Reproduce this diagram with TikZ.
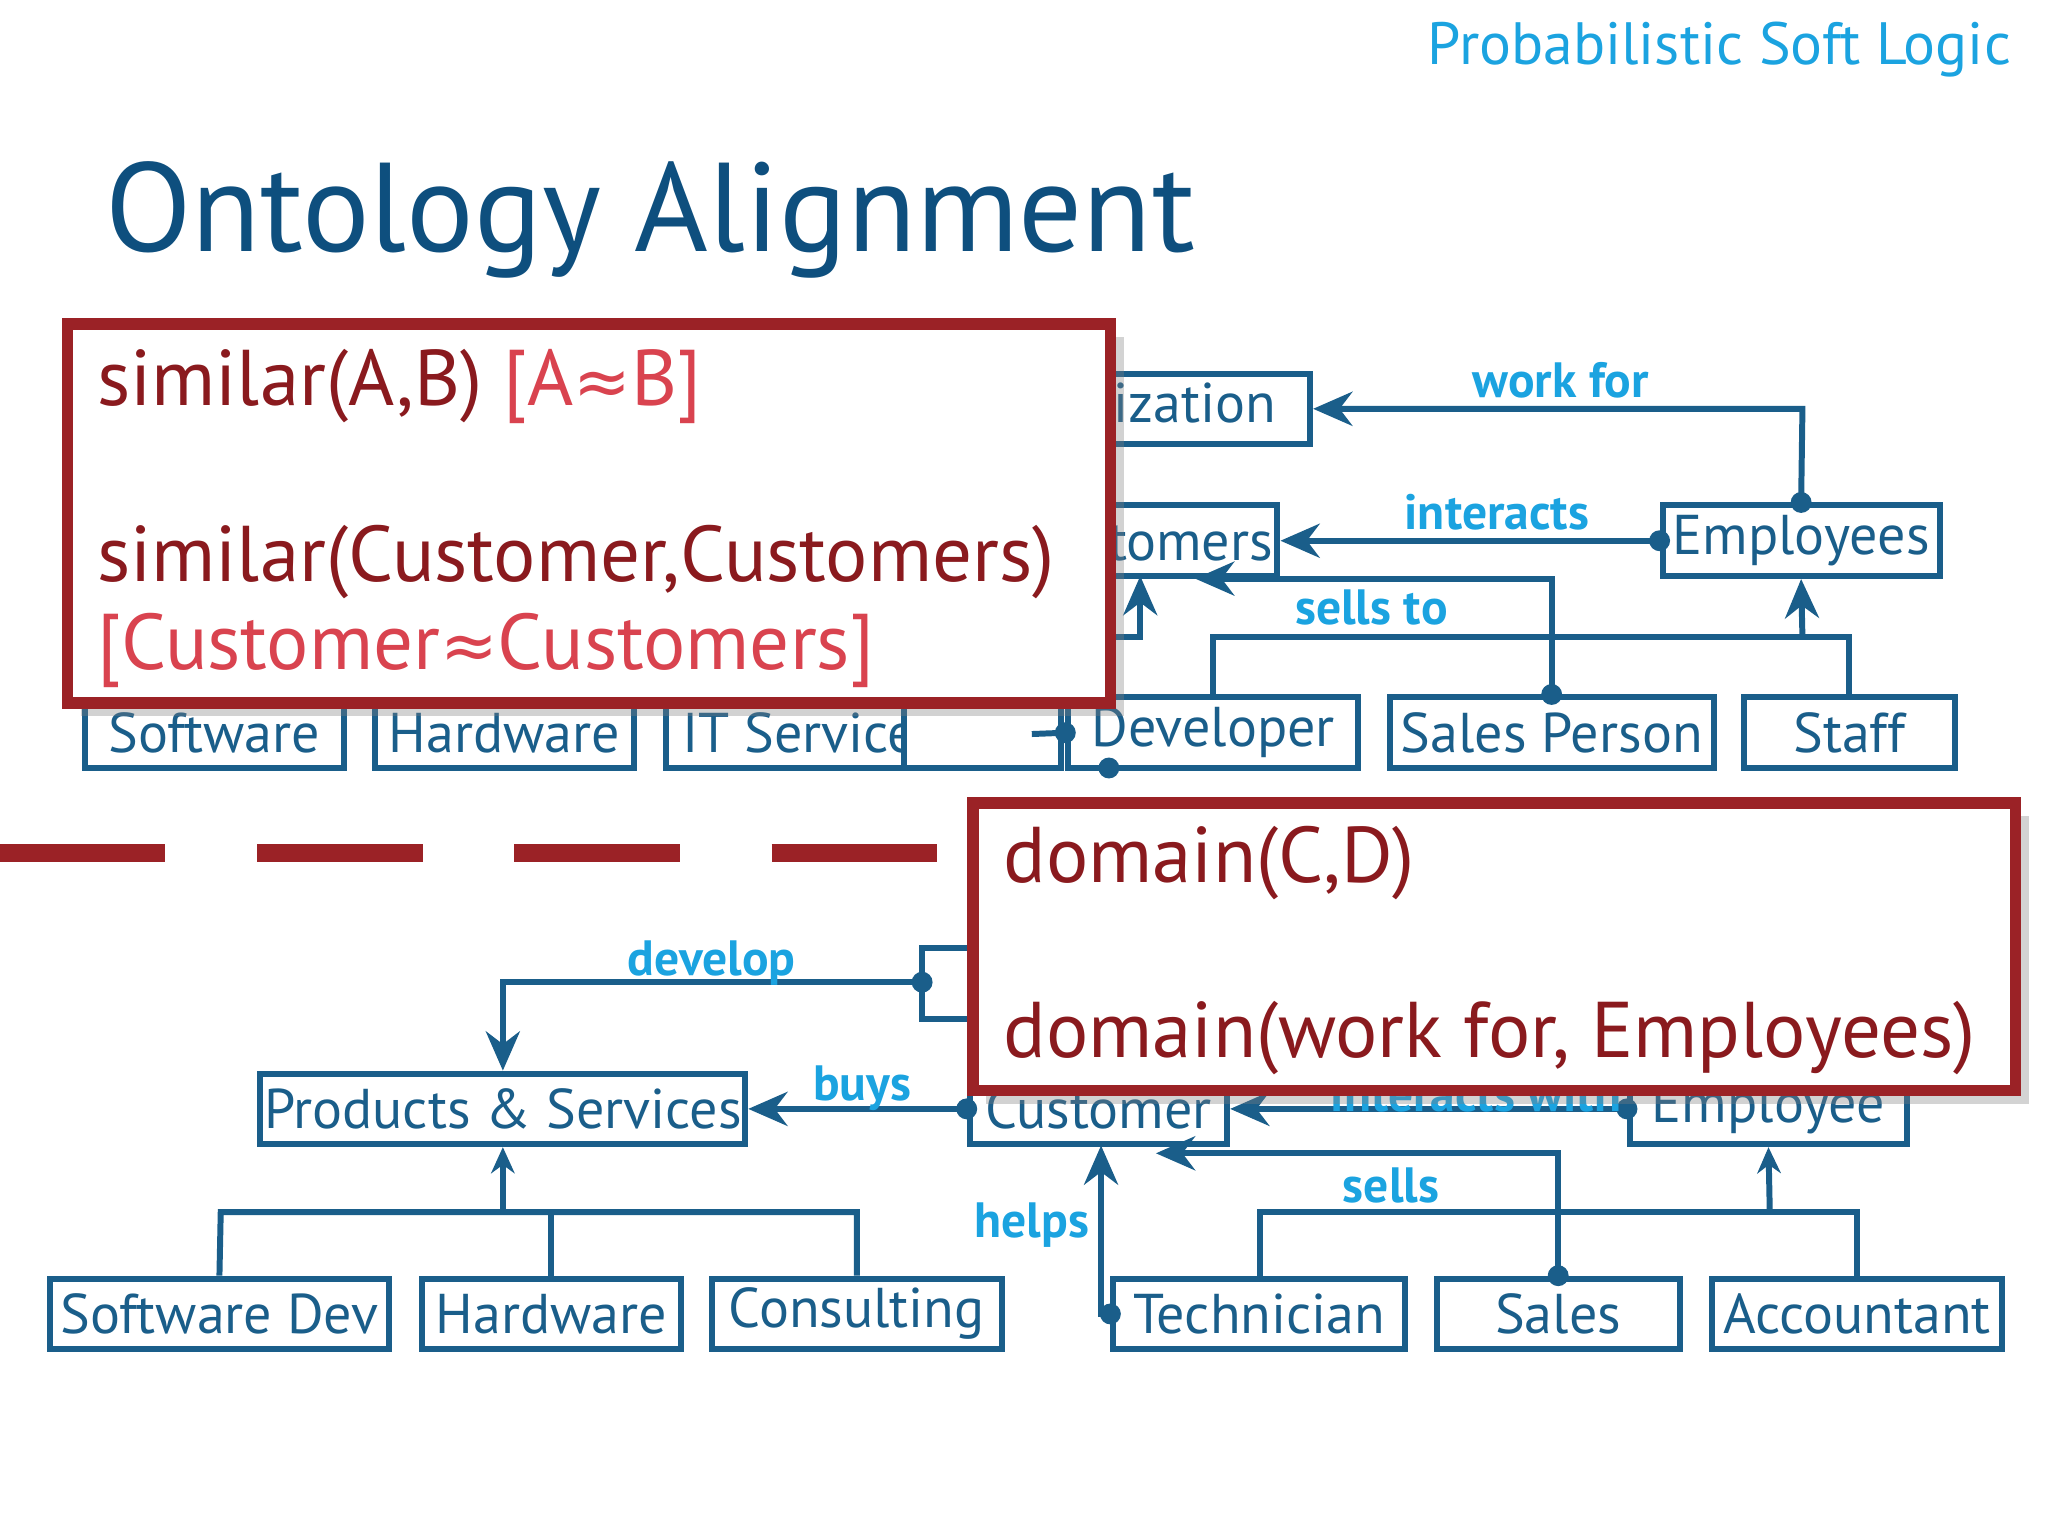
\documentclass[tikz,border=0pt]{standalone}
\usepackage{fontspec}
\setmainfont{PT Sans}
\newfontfamily\symf{DejaVu Sans}
\usetikzlibrary{arrows.meta,shadows}
\definecolor{bx}{HTML}{1A5E8A}
\definecolor{lb}{HTML}{1BA3E0}
\definecolor{tt}{HTML}{0E4F7E}
\definecolor{rb}{HTML}{9B2226}
\definecolor{rt}{HTML}{8A1A1E}
\definecolor{rl}{HTML}{D9434F}
\tikzset{
 box/.style={draw=bx,line width=1.3pt,fill=white,text=bx,minimum height=0.54cm,inner sep=0pt,font=\fontsize{12.2}{12.2}\selectfont},
 con/.style={draw=bx,line width=1.3pt},
 arr/.style={con,-{Stealth[length=3mm,width=2.6mm]}},
 dot/.style={circle,fill=bx,inner sep=0pt,minimum size=1.6mm},
 lab/.style={text=lb,font=\fontsize{10.8}{10.8}\selectfont\bfseries},
 redbox/.style={draw=rb,line width=2.5pt,fill=white,drop shadow={opacity=0.35,shadow xshift=1mm,shadow yshift=-1mm}},
 rtxt/.style={text=rt,anchor=west,font=\fontsize{17.2}{17.2}\selectfont},
}
\begin{document}
\begin{tikzpicture}[x=0.01cm,y=-0.01cm]
\useasboundingbox (0,0) rectangle (1568,1176);
\node[text=lb,anchor=east,font=\fontsize{13}{13}\selectfont] (hd) at (1552,38) {Probabilistic Soft Logic};
\node[text=tt,anchor=west,font=\fontsize{27.5}{27.5}\selectfont] (ti) at (68,168) {Ontology Alignment};
% top ontology
\node[box,minimum width=2.88cm] (org) at (859,313) {Organization};
\node[box,minimum width=1.98cm] (cus) at (879,414) {Customers};
\node[box,minimum width=2.12cm] (emp) at (1379,414) {Employees};
\node[box,minimum width=1.98cm] (sw) at (164,561) {Software};
\node[box,minimum width=1.98cm] (hw) at (386,561) {Hardware};
\node[box,minimum width=2.22cm] (its) at (621,561) {IT Services};
\node[box,minimum width=1.2cm] (prd) at (752,561) {};
\node[box,minimum width=2.22cm] (dev) at (929,561) {Developer};
\node[box,minimum width=2.48cm] (sp) at (1188,561) {Sales Person};
\node[box,minimum width=1.62cm] (stf) at (1416,561) {Staff};
\coordinate (t1) at (1380,313);
\draw[arr] (emp.north) node[dot]{} -- (t1) -- (org.east);
\node[lab] (l1) at (1195,291) {work for};
\draw[arr] (emp.west) node[dot]{} -- (cus.east);
\node[lab] (l2) at (1146,392) {interacts};
\coordinate (t2) at (1188,443);
\draw[arr] (sp.north) node[dot]{} -- (t2) -- (915,443);
\node[lab] (l3) at (1050,465) {sells to};
\draw[con] (dev.north) -- (929,488) -- (1416,488) -- (stf.north);
\draw[arr] (1380,488) -- (emp.south);
\draw[arr] (850,488) -- (873,488) -- (873,441);
\draw[con] (790,562) -- (dev.west) node[dot]{};
\node[dot] (dd) at (849,588) {};
% red box 1
\node[redbox,minimum width=7.98cm,minimum height=2.9cm] (r1) at (451,393) {};
\node[rtxt] (s1) at (62,296) {similar(A,B) \textcolor{rl}{[A{\symf\fontsize{15}{15}\selectfont ≈}B]}};
\node[rtxt] (s2) at (62,430) {similar(Customer,Customers)};
\node[rtxt,text=rl] (s3) at (62,498) {[Customer{\symf\fontsize{15}{15}\selectfont ≈}Customers]};
% dashed line
\draw[rb,line width=4pt,dash pattern=on 36pt off 20pt] (0,653) -- (1568,653);
% bottom ontology
\node[box,minimum width=3.71cm] (ps) at (385,849) {Products \& Services};
\node[box,minimum width=1.97cm] (cu) at (841,849) {Customer};
\node[box,minimum width=2.12cm] (em) at (1354,849) {Employee};
\node[box,minimum width=2.6cm] (sd) at (168,1006) {Software Dev};
\node[box,minimum width=1.98cm] (hw2) at (422,1006) {Hardware};
\node[box,minimum width=2.22cm] (co) at (656,1006) {Consulting};
\node[box,minimum width=2.23cm] (te) at (964,1006) {Technician};
\node[box,minimum width=1.86cm] (sa) at (1193,1006) {Sales};
\node[box,minimum width=2.22cm] (ac) at (1422,1006) {Accountant};
\node[box,minimum width=1.6cm,minimum height=0.54cm] (dv) at (786,753) {};
\coordinate (b1) at (385,752);
\draw[arr] (706,752) node[dot]{} -- (b1) -- (ps.north);
\node[lab] (l4) at (545,737) {develop};
\draw[arr] (cu.west) node[dot]{} -- (ps.east);
\node[lab] (l5) at (660,833) {buys};
\draw[arr] (em.west) node[dot]{} -- (cu.east);
\node[lab] (l6) at (1130,838) {interacts with};
\coordinate (b2) at (1193,883);
\draw[arr] (sa.north) node[dot]{} -- (b2) -- (885,883);
\node[lab] (l7) at (1065,908) {sells};
\coordinate (b3) at (843,1006);
\draw[arr] (te.west) node[dot]{} -- (b3) -- (843,877);
\node[lab] (l8) at (790,938) {helps};
\draw[con] (sd.north) -- (169,928) -- (656,928) -- (co.north);
\draw[con] (hw2.north) -- (422,928);
\draw[con,-{Stealth[length=2mm,width=1.8mm]}] (385,928) -- (ps.south);
\draw[con] (965,979) -- (965,928) -- (1422,928) -- (ac.north);
\draw[con,-{Stealth[length=2mm,width=1.8mm]}] (1355,928) -- (em.south);
% red box 2
\node[redbox,minimum width=7.98cm,minimum height=2.2cm] (r2) at (1144,725) {};
\node[rtxt] (d1) at (756,661) {domain(C,D)};
\node[rtxt] (d2) at (756,795) {domain(work for, Employees)};
\end{tikzpicture}
\end{document}
